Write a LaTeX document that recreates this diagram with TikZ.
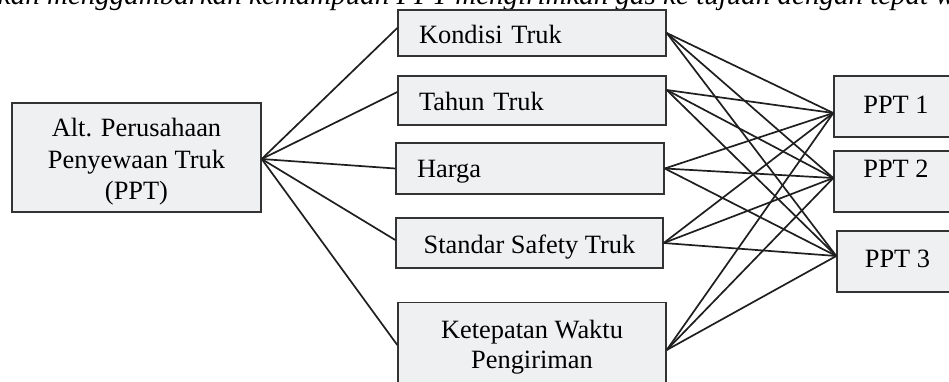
\documentclass[tikz,border=0pt]{standalone}
\usepackage{fontspec}
\setmainfont{Liberation Serif}[ItalicFont={Liberation Serif Italic}]
\begin{document}
\begin{tikzpicture}[x=1pt,y=-1pt,
  font=\fontsize{26.4}{30}\selectfont,
  box/.style={draw=black!80, line width=1.4pt, fill=boxfill, rectangle, inner sep=0pt},
  lbox/.style={box, text width=#1, align=left, text height=20pt, text depth=0pt},
  cbox/.style={box, align=center, text height=20pt, text depth=0pt},
  pbox/.style={box, align=center, text height=16pt, text depth=3pt},
  link/.style={draw=black!88, line width=1.7pt}]
\definecolor{boxfill}{HTML}{EFF0F2}
\useasboundingbox (0,0) rectangle (949,381);
\clip (0,0) rectangle (949,381);
% top cropped caption line
\node[anchor=base east, inner sep=0pt, font=\fontsize{29}{33}\selectfont\itshape] (cap) at (955,4)
  {kan menggambarkan kemampuan PPT mengirimkan gas ke tujuan dengan tepat w};
% left box
\node[box, minimum width=249pt, minimum height=109pt, align=center] (L) at (136.5,157.5)
  {\rule{0pt}{27pt}Alt. Perusahaan\\[1.5pt]Penyewaan Truk\\[1.5pt](PPT)};
% criteria
\node[lbox=226pt, minimum width=268pt, minimum height=46pt, inner xsep=21pt] (K1) at (532,33) {Kondisi Truk};
\node[lbox=226pt, minimum width=268pt, minimum height=49pt, inner xsep=21pt] (K2) at (532,100.5) {Tahun Truk};
\node[lbox=226pt, minimum width=268pt, minimum height=51pt, inner xsep=21pt, text depth=2pt] (K3) at (530,168.5) {Harga};
\node[cbox, minimum width=267pt, minimum height=50pt] (K4) at (529.5,243) {Standar Safety Truk};
\node[box, anchor=north, minimum width=268pt, inner ysep=17pt, align=center] (K5) at (532,302)
  {Ketepatan Waktu\\Pengiriman};
% alternatives
\node[pbox, minimum width=124pt, minimum height=61pt] (P1) at (896,106.5) {PPT 1};
\node[pbox, minimum width=124pt, minimum height=61pt, text depth=25pt] (P2) at (896,181.5) {PPT 2};
\node[pbox, minimum width=121pt, minimum height=61pt, text depth=5pt] (P3) at (897.5,261.5) {PPT 3};
% attachment points
\coordinate (Lo) at ([yshift=-1.5pt]L.east);
\coordinate (K1i) at ([yshift=5pt]K1.west);
\coordinate (K2i) at ([yshift=8.5pt]K2.west);
\coordinate (K3i) at (K3.west);
\coordinate (K4i) at ([yshift=3pt]K4.west);
\coordinate (K5i) at ([yshift=-43pt]K5.north west);
\coordinate (K1o) at (K1.east);
\coordinate (K2o) at ([yshift=10.5pt]K2.east);
\coordinate (K3o) at (K3.east);
\coordinate (K4o) at (K4.east);
\coordinate (K5o) at ([yshift=-48pt]K5.north east);
\coordinate (P1i) at ([yshift=-6.5pt]P1.west);
\coordinate (P2i) at ([yshift=3.5pt]P2.west);
\coordinate (P3i) at ([yshift=5.5pt]P3.west);
% connectors
\foreach \k in {1,...,5} {
  \draw[link] (Lo) -- (K\k i);
  \foreach \p in {1,2,3} {
    \draw[link] (K\k o) -- (P\p i);
  }
}
\end{tikzpicture}
\end{document}
